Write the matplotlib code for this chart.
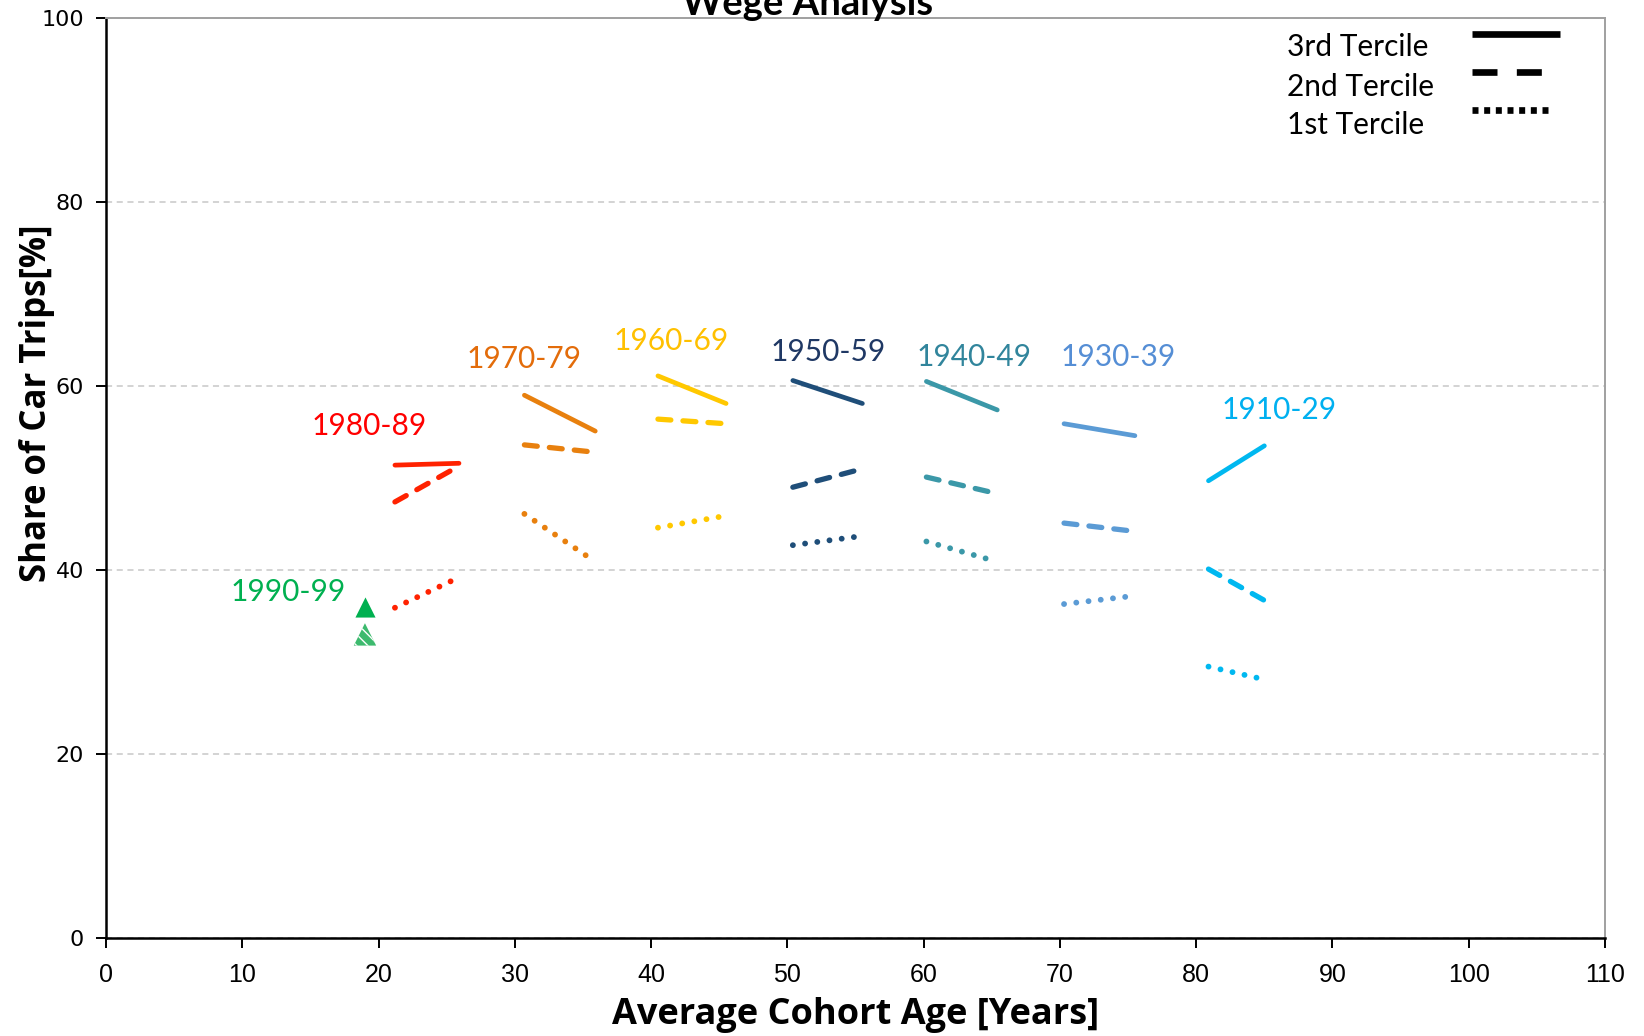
import matplotlib
matplotlib.use("Agg")
import matplotlib.pyplot as plt

# cohort segments: x = average age at the two survey waves, y = share of car trips
cohorts = ["1980-89", "1970-79", "1960-69", "1950-59", "1940-49", "1930-39", "1910-29"]
colors = ["#FF2200", "#E8800E", "#FFC800", "#1F4E79", "#3B98A8", "#5B9BD5", "#00B8F0"]
label_colors = ["#FF0000", "#E36C0A", "#FFC000", "#1F3864", "#31859C", "#558ED5", "#00B0F0"]
ages = [(21.2, 25.9), (30.7, 35.9), (40.5, 45.5), (50.4, 55.5), (60.2, 65.4), (70.3, 75.5), (80.9, 85.0)]
tercile3 = [(51.4, 51.6), (59.0, 55.1), (61.1, 58.1), (60.6, 58.1), (60.5, 57.4), (55.9, 54.6), (49.7, 53.5)]
tercile2 = [(47.4, 51.3), (53.6, 52.8), (56.4, 55.9), (49.0, 51.0), (50.1, 48.3), (45.1, 44.2), (40.1, 36.7)]
tercile1 = [(35.9, 39.2), (46.1, 40.9), (44.6, 45.9), (42.7, 43.7), (43.1, 40.9), (36.3, 37.2), (29.5, 28.1)]
label_pos = [(19.3, 55.6), (30.7, 62.9), (41.5, 64.9), (53.0, 63.7), (63.7, 63.1), (74.3, 63.1), (86.1, 57.4)]

# youngest cohort only has a single observation per wave
young_label = "1990-99"
young_age = 19.0
young_vals = [36.0, 33.0]

tercile_names = ["3rd Tercile", "2nd Tercile", "1st Tercile"]

SOLID = dict(lw=3.4, solid_capstyle="round")
DASHED = dict(lw=3.8, linestyle=(0, (2.45, 2.3)), dash_capstyle="round")
DOTTED = dict(lw=4.2, linestyle=(0, (0.01, 2.1)), dash_capstyle="round")

fig = plt.figure(figsize=(16.44, 10.36), dpi=100)
ax = fig.add_axes([0.0645, 0.0946, 0.9118, 0.888])

for i, name in enumerate(cohorts):
    c = colors[i]
    ax.plot(ages[i], tercile3[i], color=c, **SOLID)
    ax.plot(ages[i], tercile2[i], color=c, **DASHED)
    ax.plot(ages[i], tercile1[i], color=c, **DOTTED)
    ax.text(label_pos[i][0], label_pos[i][1], name, color=label_colors[i],
            fontsize=21.5, family="Lato", ha="center", va="center")

ax.scatter([young_age], [young_vals[0]], marker="^", s=210, color="#00B050", lw=0, zorder=3)
ax.scatter([young_age], [young_vals[1]], marker="^", s=260, facecolor="#3DBA6E",
           edgecolor="white", hatch="\\\\\\", lw=0, zorder=3)
ax.text(13.4, 37.6, young_label, color="#00B050", fontsize=21.5, family="Lato",
        ha="center", va="center")

ax.set_xlim(0, 110)
ax.set_ylim(0, 100)
ax.set_xticks(range(0, 111, 10))
ax.set_yticks(range(0, 101, 20))
ax.tick_params(axis="both", length=7, width=1.4, direction="out")
ax.tick_params(axis="x", pad=11, labelsize=18, labelfontfamily="Liberation Sans")
ax.tick_params(axis="y", pad=9, labelsize=16, labelfontfamily="DejaVu Sans")
ax.yaxis.grid(True, linestyle=(0, (4, 3)), color="#C8C8C8", lw=1.1)
ax.set_axisbelow(True)

for side in ["left", "bottom"]:
    ax.spines[side].set_linewidth(1.8)
    ax.spines[side].set_color("black")
for side in ["top", "right"]:
    ax.spines[side].set_linewidth(1.4)
    ax.spines[side].set_color("#A0A0A0")

ax.set_xlabel("Average Cohort Age [Years]", fontsize=26, family="Open Sans",
              fontweight="bold")
ax.xaxis.set_label_coords(0.5, -0.064)
ax.set_ylabel("Share of Car Trips[%]", fontsize=25, family="Open Sans",
              fontweight="bold")
ax.yaxis.set_label_coords(-0.034, 0.581)

fig.text(0.491, 0.9855, "Wege Analysis", fontsize=27.5, family="Lato",
         fontweight="bold", ha="center", va="baseline")

# key in the top right corner: labels left-aligned, line samples to their right
key_text_y = [0.9688, 0.9253, 0.8837]
key_line_y = [0.9826, 0.9416, 0.900]
key_styles = [
    dict(lw=4.8, solid_capstyle="butt"),
    dict(lw=4.8, linestyle=(0, (3.75, 2.9)), dash_capstyle="butt"),
    dict(lw=4.8, linestyle=(0, (0.9, 0.85)), dash_capstyle="butt"),
]
key_x_end = [0.970, 0.958, 0.965]
for name, ty, ly, style, xe in zip(tercile_names, key_text_y, key_line_y, key_styles, key_x_end):
    ax.text(0.788, ty, name, transform=ax.transAxes, fontsize=21.5, family="Lato",
            ha="left", va="center")
    ax.plot([0.911, xe], [ly, ly], transform=ax.transAxes, color="black",
            clip_on=False, **style)

fig.savefig("out.png", dpi=100)
